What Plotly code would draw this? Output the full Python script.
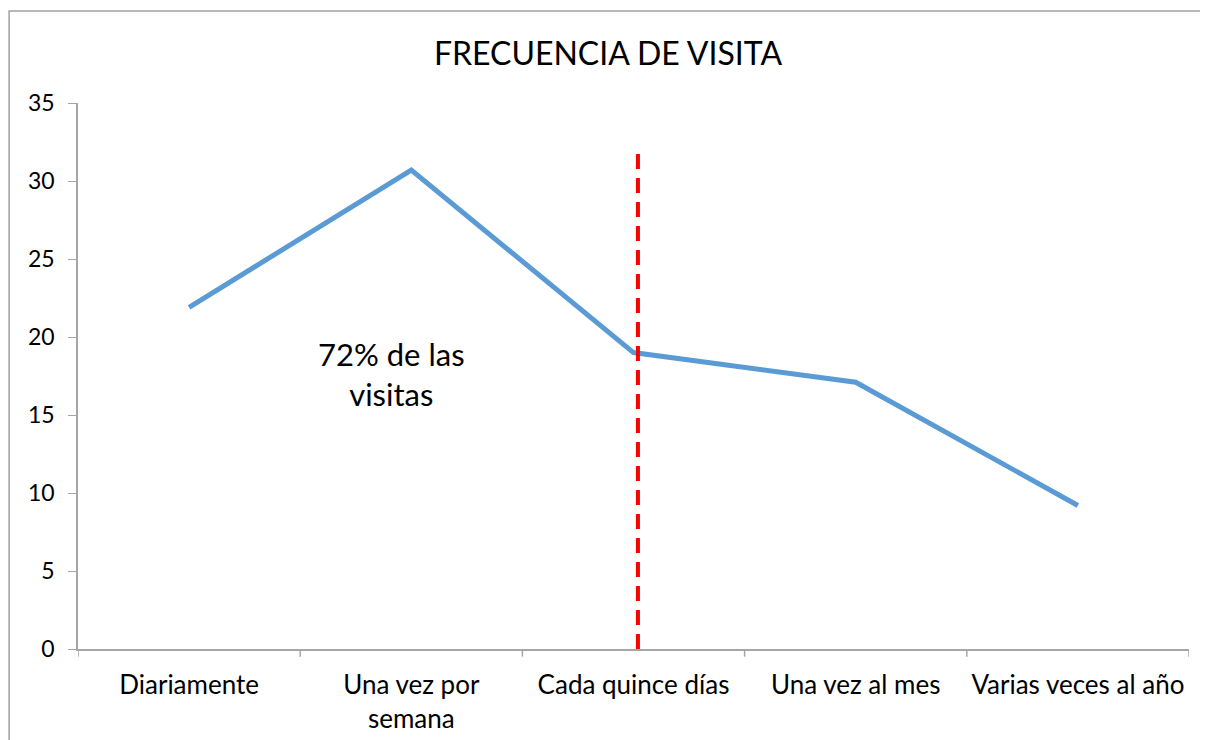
import plotly.graph_objects as go

# ── Data ──────────────────────────────────────────────────────────────────────
categories = [
    "Diariamente",
    "Una vez por<br>semana",
    "Cada quince días",
    "Una vez al mes",
    "Varias veces al año",
]
frecuencia = [21.9, 30.7, 19.0, 17.1, 9.2]
y_ticks = [0, 5, 10, 15, 20, 25, 30, 35]

corte_x = 2.02      # position of the red dashed divider (category units)
corte_top = 31.8

FONT = "Lato, Calibri, sans-serif"

fig = go.Figure()

fig.add_trace(go.Scatter(
    x=list(range(len(categories))),
    y=frecuencia,
    mode="lines",
    line=dict(color="#5B9BD5", width=5),
    hoverinfo="y",
    showlegend=False,
))

# red dashed divider
fig.add_trace(go.Scatter(
    x=[corte_x, corte_x],
    y=[0, corte_top],
    mode="lines",
    line=dict(color="#FF0000", width=4, dash="15px,9px"),
    hoverinfo="skip",
    showlegend=False,
))

fig.add_annotation(
    x=0.91, y=17.6,
    text="72% de las<br>visitas",
    showarrow=False,
    font=dict(size=31, color="#000000", family=FONT),
    align="center",
)

# chart area border
fig.add_shape(
    type="rect", xref="paper", yref="paper",
    x0=-0.062, x1=1.0135, y0=-0.2, y1=1.1685,
    line=dict(color="#A0A0A0", width=1.5),
    fillcolor="rgba(0,0,0,0)",
    layer="below",
)

fig.update_layout(
    width=1200,
    height=732,
    title=dict(
        text="FRECUENCIA DE VISITA",
        x=0.5, xanchor="center",
        y=0.937, yanchor="middle",
        font=dict(size=32, color="#000000", family=FONT),
    ),
    font=dict(family=FONT, color="#000000", size=22),
    plot_bgcolor="#FFFFFF",
    paper_bgcolor="#FFFFFF",
    margin=dict(l=70, r=19, t=95, b=91),
    xaxis=dict(
        tickmode="array",
        tickvals=list(range(len(categories))),
        ticktext=categories,
        range=[-0.5, len(categories) - 0.5],
        showgrid=False,
        zeroline=False,
        showline=True,
        linecolor="#A6A6A6",
        linewidth=1.5,
        ticks="",
        ticklabelstandoff=12,
        tickfont=dict(size=26),
        automargin=False,
    ),
    yaxis=dict(
        range=[0, 35],
        tickvals=y_ticks,
        showgrid=False,
        zeroline=False,
        showline=True,
        linecolor="#A6A6A6",
        linewidth=1.5,
        ticks="outside",
        ticklen=8,
        tickcolor="#A6A6A6",
        ticklabelstandoff=9,
        tickfont=dict(size=23),
        automargin=False,
    ),
)

# category boundary tick marks on the x axis
for b in range(len(categories) + 1):
    fig.add_shape(
        type="line", xref="x", yref="paper",
        x0=b - 0.5, x1=b - 0.5, y0=0, y1=-0.014,
        line=dict(color="#A6A6A6", width=1.5),
    )

fig.write_html("out.html")
